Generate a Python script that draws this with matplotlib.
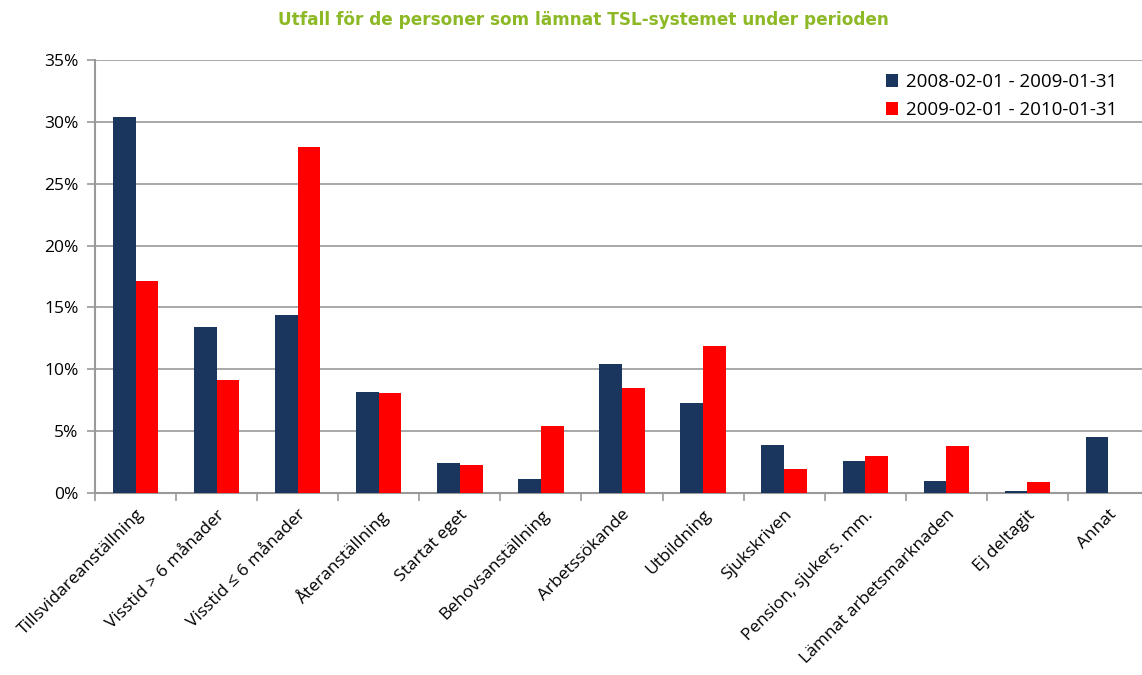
import matplotlib
matplotlib.use('Agg')
import matplotlib.pyplot as plt
import numpy
from matplotlib.ticker import FuncFormatter, MultipleLocator

categories = ['Tillsvidareanställning', 'Visstid > 6 månader', 'Visstid ≤ 6 månader',
              'Återanställning', 'Startat eget', 'Behovsanställning', 'Arbetssökande',
              'Utbildning', 'Sjukskriven', 'Pension, sjukers. mm.',
              'Lämnat arbetsmarknaden', 'Ej deltagit', 'Annat']
series1 = [30.4, 13.4, 14.4, 8.2, 2.4, 1.1, 10.4, 7.3, 3.9, 2.6, 1.0, 0.2, 4.5]
series2 = [17.1, 9.1, 28.0, 8.1, 2.3, 5.4, 8.5, 11.9, 1.9, 3.0, 3.8, 0.9, 0.0]
labels = ['2008-02-01 - 2009-01-31', '2009-02-01 - 2010-01-31']

plt.rcParams['font.family'] = ['Open Sans', 'DejaVu Sans']

fig = plt.figure(figsize=(11.42, 6.75), dpi=100)
ax = fig.add_axes([95/1142, 1-493/675, 1054/1142, 433/675])

x = numpy.arange(len(categories))
w = 0.28
ax.bar(x - w/2, series1, w, color='#1A365F', label=labels[0], zorder=3)
ax.bar(x + w/2, series2, w, color='#FF0000', label=labels[1], zorder=3)

ax.set_xlim(-0.5, len(categories) - 0.5)
ax.set_ylim(0, 35)
ax.yaxis.set_major_locator(MultipleLocator(5))
ax.yaxis.set_major_formatter(FuncFormatter(lambda v, p: '%d%%' % v))
ax.grid(axis='y', color='#999999', linewidth=1.2, zorder=0)

for s in ['top', 'right']:
    ax.spines[s].set_visible(False)
for s in ['left', 'bottom']:
    ax.spines[s].set_color('#999999')
    ax.spines[s].set_linewidth(1.5)

ax.set_xticks(numpy.arange(len(categories) + 1) - 0.5, minor=False)
ax.set_xticklabels([])
ax.set_xticks(x, minor=True)
ax.set_xticklabels(categories, minor=True, rotation=45, ha='right',
                   rotation_mode='anchor', fontsize=12.5)
ax.tick_params(axis='x', which='major', length=6, color='#999999', width=1.2)
ax.tick_params(axis='x', which='minor', length=0, pad=10)
ax.tick_params(axis='y', length=6, color='#999999', width=1.2, labelsize=12.5, pad=6)

fig.legend(loc='upper right', bbox_to_anchor=(1134/1142, 1-56/675), frameon=False,
           fontsize=13.5, handlelength=0.65, handleheight=0.65, handletextpad=0.4,
           labelspacing=0.55)

fig.text(0.511, 1-20/675, 'Utfall för de personer som lämnat TSL-systemet under perioden',
         ha='center', va='center', color='#8DB927', fontsize=12.2, fontweight='bold',
         family=['DejaVu Sans'])

plt.savefig('out.png', dpi=100)
